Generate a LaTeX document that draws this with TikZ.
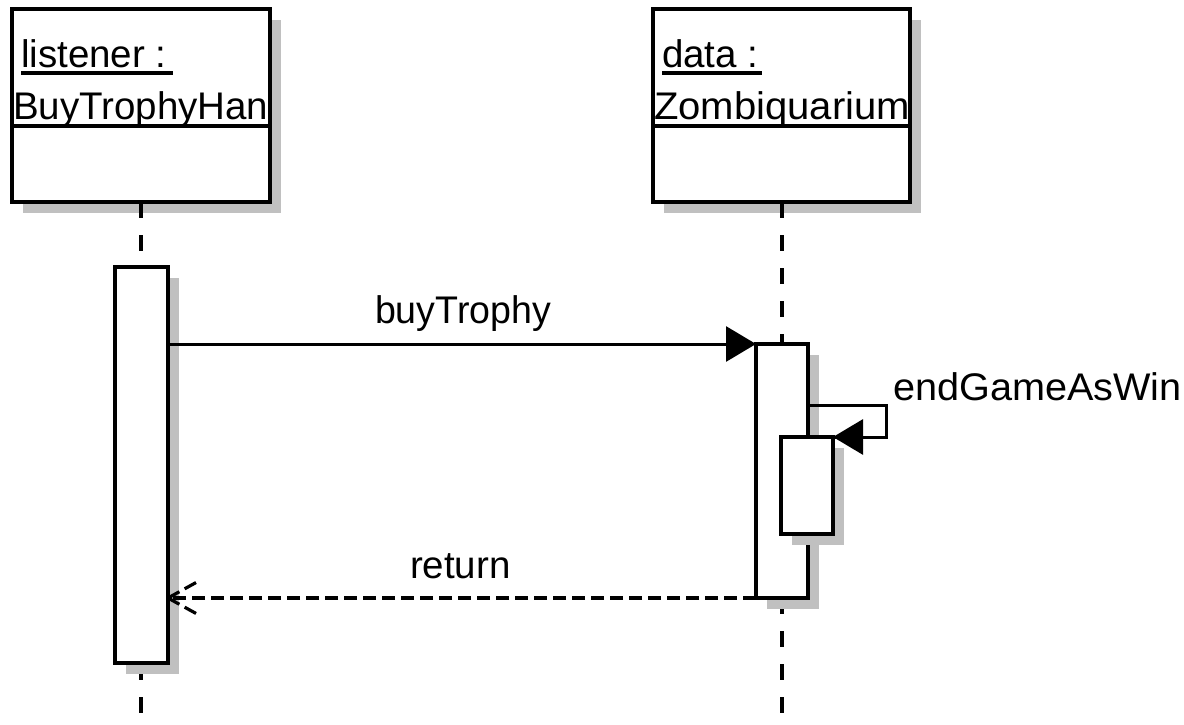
\documentclass[tikz,border=0pt]{standalone}
\usepackage{fontspec}
\setmainfont{Liberation Sans}
\usetikzlibrary{arrows.meta,shadows}
\definecolor{shadowgray}{RGB}{192,192,192}
\begin{document}
\begin{tikzpicture}[x=1pt,y=-1pt,
  every node/.style={font=\fontsize{38.5}{44}\selectfont, inner sep=0pt, outer sep=0pt},
  sh/.style={general shadow={fill=shadowgray, shadow xshift=11pt, shadow yshift=-11pt}},
  obj/.style={draw, rectangle, line width=4pt, fill=white, sh},
  act/.style={draw, rectangle, line width=3.5pt, fill=white, sh},
  lifeline/.style={line width=3.5pt, dash pattern=on 16pt off 17pt},
  msg/.style={line width=3pt, -{Triangle[length=30pt,width=35pt]}},
  ret/.style={line width=3.2pt, dash pattern=on 13pt off 6pt},
  lbl/.style={anchor=base west},
  uline/.style={line width=3.5pt}]
\useasboundingbox (0,0) rectangle (1184,725);

% objects
\node[obj, minimum width=258pt, minimum height=193pt] (objL) at (141,105.5) {};
\node[obj, minimum width=257pt, minimum height=193pt] (objR) at (781.5,105.5) {};
\coordinate (div) at (0,126);
\draw[line width=3.5pt] (objL.west |- div) -- (objL.east |- div);
\draw[line width=3.5pt] (objR.west |- div) -- (objR.east |- div);

\node[lbl] (t1) at (21,67) {listener :};
\draw[uline] ([yshift=-6pt]t1.base west) -- ([yshift=-6pt,xshift=6pt]t1.base east);
\node[lbl] (t2) at (13,120) {BuyTrophyHan};
\node[lbl] (t3) at (662,67) {data :};
\draw[uline] ([yshift=-6pt]t3.base west) -- ([yshift=-6pt,xshift=4pt]t3.base east);
\node[lbl, xscale=1.04] (t4) at (654,120) {Zombiquarium};

% lifelines
\coordinate (endL) at (141,725);
\coordinate (endR) at (782,725);
\draw[lifeline] (objL.south) -- (endL);
\draw[lifeline] (objR.south -| endR) -- (endR);

% activations
\node[act, minimum width=53pt, minimum height=396pt] (actL) at (141.5,465) {};
\node[act, minimum width=52pt, minimum height=254pt] (actR) at (782,471) {};
\node[act, minimum width=52pt, minimum height=97pt] (actN) at (807,485.5) {};

% buyTrophy
\coordinate (y1) at (0,344);
\draw[msg] (actL.east |- y1) -- (actR.north west);
\node[lbl, xscale=0.975] (t5) at (375,323) {buyTrophy};

% self message
\coordinate (s1) at (886,405);
\coordinate (s2) at (886,437);
\draw[line width=3pt] (actR.east |- s1) -- (s1) -- (s2) -- (actN.north east);
\draw[msg] (s2) -- (actN.north east);
\node[lbl, xscale=1.03] (t7) at (893,400) {endGameAsWin};

% return
\coordinate (y2) at (0,598);
\coordinate (rt) at (actL.east |- y2);
\draw[ret] (actR.south west) -- (rt);
\draw[ret] (rt) -- ++(29,-16);
\draw[ret] (rt) -- ++(29,16);
\node[lbl] (t6) at (410,578) {return};
\end{tikzpicture}
\end{document}
